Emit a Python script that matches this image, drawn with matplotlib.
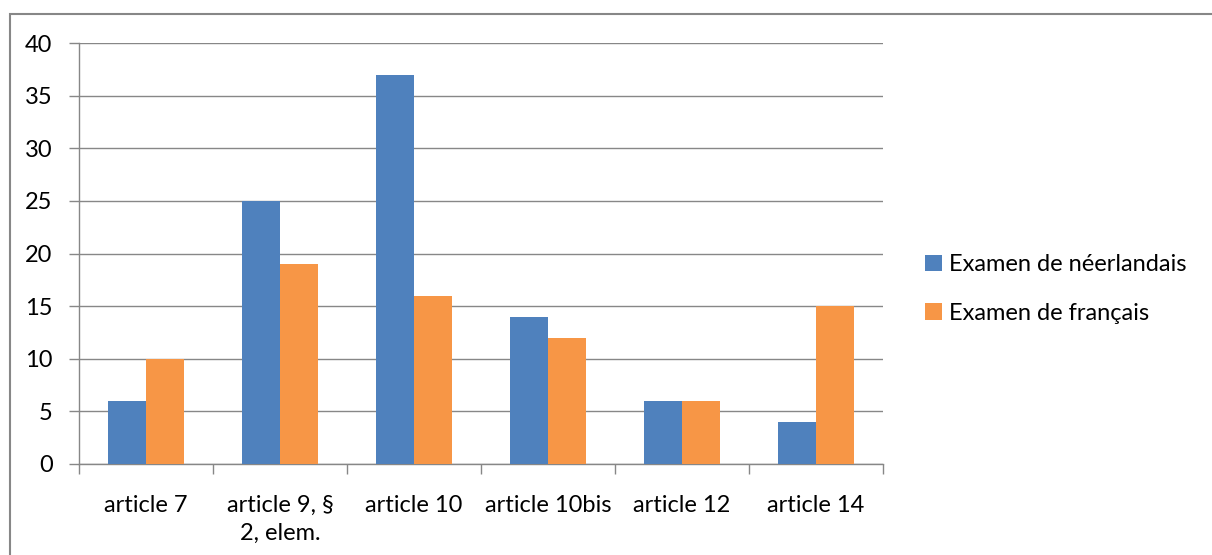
import matplotlib.pyplot as plt
import numpy as np
from matplotlib.patches import Rectangle

plt.rcParams['font.family'] = ['Lato', 'DejaVu Sans']

categories = ["article 7", "article 9, §\n2, elem.", "article 10", "article 10bis", "article 12", "article 14"]
neerlandais = [6, 25, 37, 14, 6, 4]
francais = [10, 19, 16, 12, 6, 15]
series_names = ["Examen de néerlandais", "Examen de français"]

blue = "#4F81BD"
orange = "#F79646"
gray = "#878787"
fs = 17

W, H = 1212, 555
fig = plt.figure(figsize=(W / 100, H / 100), dpi=100)
ax = fig.add_axes([79 / W, 1 - 464 / H, (883 - 79) / W, (464 - 43) / H])

x = np.arange(len(categories))
bw = 0.284
ax.bar(x - bw / 2, neerlandais, bw, color=blue, label=series_names[0], zorder=3)
ax.bar(x + bw / 2, francais, bw, color=orange, label=series_names[1], zorder=3)

ax.set_xlim(-0.5, len(categories) - 0.5)
ax.set_ylim(0, 40)
ax.set_yticks(range(0, 41, 5))
ax.yaxis.grid(True, color=gray, linewidth=1, zorder=0)

ax.set_xticks(np.arange(-0.5, len(categories), 1))
ax.set_xticklabels([])
ax.set_xticks(x, minor=True)
ax.set_xticklabels(categories, minor=True, fontsize=fs, linespacing=1.4)
ax.tick_params(axis='x', which='minor', length=0, pad=22)
ax.tick_params(axis='x', which='major', length=7, color=gray, width=1)
ax.tick_params(axis='y', length=7, color=gray, width=1, labelsize=fs, pad=12)

for s in ['top', 'right']:
    ax.spines[s].set_visible(False)
for s in ['left', 'bottom']:
    ax.spines[s].set_color(gray)
    ax.spines[s].set_linewidth(1)

ax.legend(loc='center left', bbox_to_anchor=(904 / W, 1 - 289 / H), bbox_transform=fig.transFigure,
          frameon=False, fontsize=fs, handlelength=0.7, handleheight=0.7, handletextpad=0.3,
          labelspacing=1.15)

# outer chart border, cropped at right and bottom edges as in the original
fig.patches.append(Rectangle((10 / W, -0.05), 1.1, 1.05 - 14 / H,
                             transform=fig.transFigure, fill=False, edgecolor=gray, linewidth=1.5))

fig.savefig("out.png", dpi=100)
